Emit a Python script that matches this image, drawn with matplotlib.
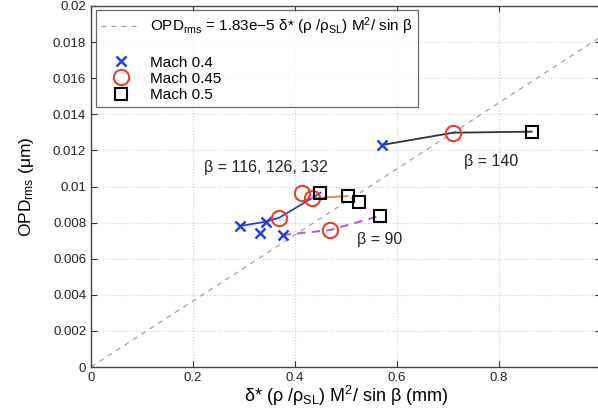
import matplotlib
matplotlib.use('Agg')
import matplotlib.pyplot as plt
import numpy as np

plt.rcParams['font.family'] = ['Liberation Sans', 'DejaVu Sans']
plt.rcParams['mathtext.fontset'] = 'custom'
plt.rcParams['mathtext.rm'] = 'Liberation Sans'
plt.rcParams['mathtext.it'] = 'Liberation Sans:italic'
plt.rcParams['mathtext.bf'] = 'Liberation Sans:bold'

# data
mach04_x = [0.292, 0.331, 0.3425, 0.376, 0.570]
mach04_y = [0.00781, 0.00742, 0.00805, 0.00731, 0.0123]
mach045_x = [0.369, 0.414, 0.433, 0.469, 0.7105]
mach045_y = [0.00827, 0.00962, 0.00935, 0.00759, 0.01298]
mach05_x = [0.450, 0.503, 0.525, 0.567, 0.864]
mach05_y = [0.00966, 0.00947, 0.00916, 0.00838, 0.01304]

# beta curves
b140_x = [0.570, 0.7105, 0.864]
b140_y = [0.0123, 0.01298, 0.01304]
b90_x = [0.376, 0.469, 0.567]
b90_y = [0.00731, 0.00759, 0.00838]
bmid_x = [0.292, 0.3425, 0.369, 0.433, 0.450]
bmid_y = [0.00781, 0.00805, 0.00827, 0.00935, 0.00966]
bmid2_x = [0.433, 0.503]
bmid2_y = [0.00935, 0.00947]

fit_coef = 1.83e-5 * 1000
fit_x = np.array([0.0, 1.0])

fig = plt.figure(figsize=(5.98, 4.16), dpi=100)
ax = fig.add_axes([91/598, 49/416, 510/598, 361/416])

fit_line, = ax.plot(fit_x, fit_coef*fit_x, '--', color='#a0a0a0', lw=0.9, dashes=(4, 4))

ax.plot(b140_x, b140_y, '-', color='#333333', lw=1.3, zorder=2)
ax.plot(b90_x, b90_y, '--', color='#b85fd6', lw=1.5, dashes=(4, 3), zorder=2)
ax.plot(bmid_x, bmid_y, '-', color='#2a3fd8', lw=1.3, zorder=2)
ax.plot(bmid2_x, bmid2_y, '-', color='#e8823a', lw=1.3, zorder=2)

m1, = ax.plot(mach04_x, mach04_y, 'x', color='#1f3fe0', ms=7, mew=1.8, ls='none')
m2, = ax.plot(mach045_x, mach045_y, 'o', mfc='none', mec='#e8402a', ms=11, mew=1.5, ls='none')
m3, = ax.plot(mach05_x, mach05_y, 's', mfc='none', mec='black', ms=8, mew=1.5, ls='none')

ax.text(0.222, 0.01108, '\u03b2 = 116, 126, 132', fontsize=11.5, va='center', color='#222222')
ax.text(0.731, 0.01136, '\u03b2 = 140', fontsize=11.5, va='center', color='#222222')
ax.text(0.522, 0.00704, '\u03b2 = 90', fontsize=11.5, va='center', color='#222222')

ax.set_xlim(0, 1)
ax.set_ylim(0, 0.02)
ax.set_xticks([0, 0.2, 0.4, 0.6, 0.8, 1.0])
ax.set_xticklabels(['0', '0.2', '0.4', '0.6', '0.8', ''])
ax.set_yticks(np.arange(0, 0.0201, 0.002))
ax.set_yticklabels(['0', '0.002', '0.004', '0.006', '0.008', '0.01', '0.012',
                    '0.014', '0.016', '0.018', '0.02'])
ax.tick_params(direction='in', top=True, right=True, labelsize=9.5, length=4,
               colors='#333333', labelcolor='#222222')
ax.grid(True, ls=':', color='#cccccc', lw=0.8)
for sp in ax.spines.values():
    sp.set_color('#444444')
    sp.set_linewidth(1.0)

ax.set_xlabel('\u03b4* (\u03c1 /\u03c1$_{\\mathrm{SL}}$) M$^2$/ sin \u03b2 (mm)', fontsize=13, labelpad=0)
ax.set_ylabel('OPD$_{\\mathrm{rms}}$ (\u03bcm)', fontsize=12.5, labelpad=12)

blank, = ax.plot([], [], ls='none')
handles = [fit_line, blank, m1, m2, m3]
labels = ['OPD$_{\\mathrm{rms}}$ = 1.83e\u22125 \u03b4* (\u03c1 /\u03c1$_{\\mathrm{SL}}$) M$^2$/ sin \u03b2',
          '', 'Mach 0.4', 'Mach 0.45', 'Mach 0.5']
leg = ax.legend(handles, labels, loc='upper left', fontsize=11, frameon=True, fancybox=False,
                edgecolor='#444444', borderpad=0.35, labelspacing=0.15,
                handlelength=2.6, handletextpad=0.6, borderaxespad=0,
                bbox_to_anchor=(5/510, 1 - 4/361))
leg.get_frame().set_linewidth(0.9)

fig.savefig('out.png', dpi=100)
